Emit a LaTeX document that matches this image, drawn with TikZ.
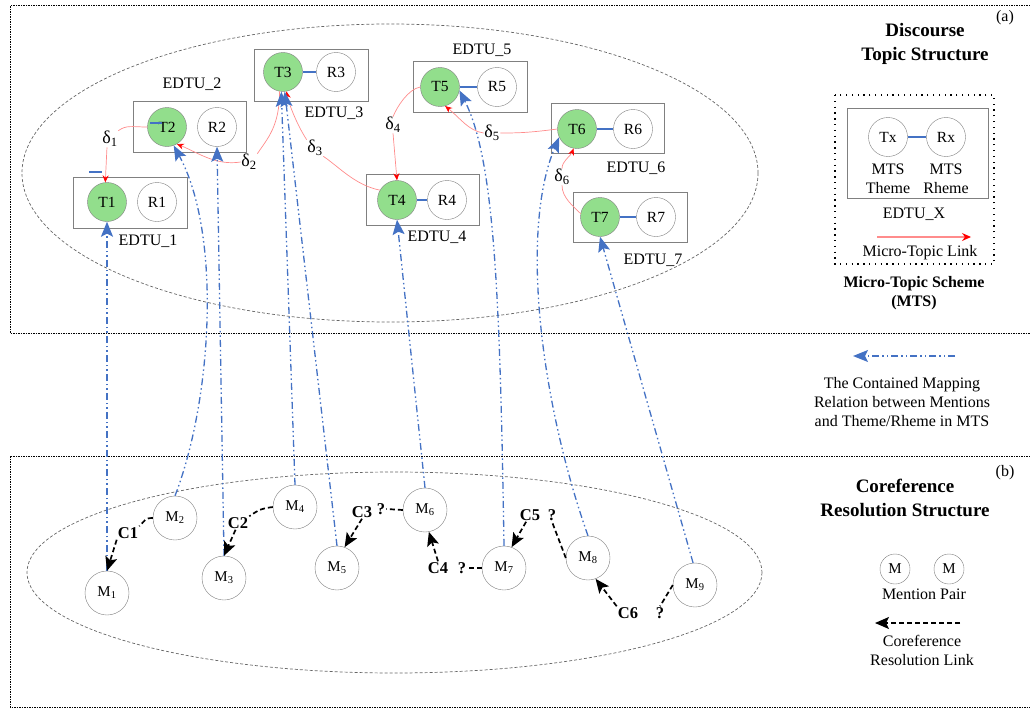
\documentclass[tikz,border=0pt]{standalone}
\usepackage{fontspec}
\setmainfont{Liberation Serif}
\usetikzlibrary{arrows.meta}
\definecolor{tgreen}{RGB}{146,222,140}
\definecolor{mblue}{RGB}{68,114,196}
\definecolor{lred}{RGB}{255,140,140}
\definecolor{bgray}{RGB}{128,128,128}
\begin{document}
\begin{tikzpicture}[x=1pt,y=-1pt,
  txt/.style={font=\fontsize{16}{19}\selectfont, inner sep=0pt, align=center},
  ttl/.style={font=\fontsize{19}{24}\selectfont\bfseries, inner sep=0pt, align=center},
  sttl/.style={font=\fontsize{16}{19}\selectfont\bfseries, inner sep=0pt, align=center},
  theme/.style={circle,draw=bgray,fill=tgreen,minimum size=39pt,inner sep=0pt,font=\fontsize{15.5}{17}\selectfont},
  rheme/.style={circle,draw=bgray,fill=white,minimum size=39pt,inner sep=0pt,font=\fontsize{15.5}{17}\selectfont},
  ment/.style={circle,draw=bgray,fill=white,minimum size=44pt,inner sep=0pt,font=\fontsize{15}{17}\selectfont},
  smment/.style={circle,draw=bgray,fill=white,minimum size=30pt,inner sep=0pt,font=\fontsize{15}{17}\selectfont},
  edtu/.style={draw=bgray, line width=0.8pt},
  ell/.style={draw=black!60, line width=0.7pt, dash pattern=on 3pt off 2pt},
  frame/.style={draw=black, line width=1pt, dash pattern=on 1.5pt off 1pt},
  legbox/.style={draw=black, line width=1.3pt, dash pattern=on 1.3pt off 4.5pt},
  tr/.style={mblue,line width=1.2pt},
  mtl/.style={lred, line width=0.7pt, -{Stealth[red,length=7pt,width=6pt]}},
  mtlp/.style={lred, line width=0.7pt},
  dl/.style={font=\fontsize{18}{19}\selectfont, inner sep=0.5pt},
  map/.style={mblue,line width=1.3pt,dash pattern=on 7pt off 3pt on 1.5pt off 3pt on 1.5pt off 3pt,-{Stealth[length=15pt,width=12pt,inset=3pt]}},
  coref/.style={black,line width=1.7pt,dash pattern=on 5pt off 3pt,-{Stealth[length=14pt,width=12pt,inset=3pt]}},
  corefp/.style={black,line width=1.7pt,dash pattern=on 5pt off 3pt},
  cl/.style={font=\fontsize{16.5}{18}\selectfont\bfseries, inner sep=1pt},
]
\useasboundingbox (0,0) rectangle (1030,709);

% frames
\draw[frame] (1030,6) -- (10,6) -- (10,333) -- (1030,333);
\draw[frame] (1030,456) -- (10,456) -- (10,707) -- (1030,707);

% ellipses
\draw[ell] (390,173) ellipse [x radius=368, y radius=149];
\draw[ell] (394.5,572.5) ellipse [x radius=367.5, y radius=100.5];

% EDTU boxes
\draw[edtu] (73,177) rectangle (187,228);
\draw[edtu] (133,101) rectangle (246,152);
\draw[edtu] (254,49) rectangle (368,101);
\draw[edtu] (366,174) rectangle (479,225);
\draw[edtu] (413,61) rectangle (527,112);
\draw[edtu] (551,103) rectangle (664,153);
\draw[edtu] (573,192) rectangle (687,242);

\node[txt] (e1) at (148,241) {EDTU\_1};
\node[txt] (e2) at (192,84) {EDTU\_2};
\node[txt] (e3) at (334,113) {EDTU\_3};
\node[txt] (e4) at (437,237) {EDTU\_4};
\node[txt] (e5) at (482,50) {EDTU\_5};
\node[txt] (e6) at (636,168) {EDTU\_6};
\node[txt] (e7) at (653,260) {EDTU\_7};

% themes and rhemes
\node[theme] (T1) at (107,202) {T1};
\node[rheme] (R1) at (157,202) {R1};
\node[theme] (T2) at (167,127) {T2};
\node[rheme] (R2) at (217,127) {R2};
\node[theme] (T3) at (283,72) {T3};
\node[rheme] (R3) at (336,72) {R3};
\node[theme] (T4) at (397,200) {T4};
\node[rheme] (R4) at (447,200) {R4};
\node[theme] (T5) at (440,87) {T5};
\node[rheme] (R5) at (497,87) {R5};
\node[theme] (T6) at (577,129) {T6};
\node[rheme] (R6) at (633,129) {R6};
\node[theme] (T7) at (600,217) {T7};
\node[rheme] (R7) at (656,217) {R7};

\draw[tr] (T3) -- (R3);
\draw[tr] (T4) -- (R4);
\draw[tr] (T5) -- (R5);
\draw[tr] (T6) -- (R6);
\draw[tr] (T7) -- (R7);
\draw[tr] (150,123) -- (162,123);
\draw[tr] (89,172) -- (102,172);

% delta labels
\node[dl] (d1) at (110,139) {δ\textsubscript{1}};
\node[dl] (d2) at (249,162) {δ\textsubscript{2}};
\node[dl] (d3) at (315,148) {δ\textsubscript{3}};
\node[dl] (d4) at (393,125) {δ\textsubscript{4}};
\node[dl] (d5) at (492,133) {δ\textsubscript{5}};
\node[dl] (d6) at (562,177) {δ\textsubscript{6}};

% micro-topic links
\draw[mtlp] (T2.west) .. controls +(-15,0) and +(8,-6) .. (d1.north east);
\draw[mtl] (d1.250) -- (T1.95);
\draw[mtlp] (T3.-100) .. controls +(0,35) and +(10,-15) .. (d2.north east);
\draw[mtl] (d2.west) .. controls +(-25,4) and +(20,8) .. (T2.-60);
\draw[mtlp] (T4.150) .. controls +(-25,-5) and +(15,10) .. (d3.south east);
\draw[mtl] (d3.north west) .. controls +(-8,-12) and +(3,15) .. (T3.-80);
\draw[mtlp] (T5.west) .. controls +(-12,2) and +(4,-10) .. (d4.north);
\draw[mtl] (d4.south) -- (T4.north);
\draw[mtlp] (T6.west) .. controls +(-30,4) and +(15,0) .. (d5.east);
\draw[mtl] (d5.west) .. controls +(-15,-2) and +(15,12) .. (T5.-75);
\draw[mtlp] (T7.170) .. controls +(-8,-8) and +(0,12) .. (d6.south);
\draw[mtl] (d6.north) .. controls +(0,-8) and +(-3,8) .. (T6.-100);

% mentions
\node[ment] (M1) at (107,593) {M\textsubscript{1}};
\node[ment] (M2) at (175,518) {M\textsubscript{2}};
\node[ment] (M3) at (224,578) {M\textsubscript{3}};
\node[ment] (M4) at (295,507) {M\textsubscript{4}};
\node[ment] (M5) at (337,568) {M\textsubscript{5}};
\node[ment] (M6) at (425,510) {M\textsubscript{6}};
\node[ment] (M7) at (504,568) {M\textsubscript{7}};
\node[ment] (M8) at (588,558) {M\textsubscript{8}};
\node[ment] (M9) at (695,585) {M\textsubscript{9}};

% mapping relations
\draw[map] (M1.north) -- (T1.south);
\draw[map] (M2.north) .. controls (212,400) and (222,235) .. (T2.-70);
\draw[map] (M3.north) -- (R2.south);
\draw[map] (M4.north) -- (T3.-95);
\draw[map] (M5.north) -- (T3.-85);
\draw[map] (M6.north) -- (T4.south);
\draw[map] (M7.north) .. controls (500,300) and (495,160) .. (T5.-10);
\draw[map] (M8.north) .. controls (540,400) and (520,230) .. (T6.205);
\draw[map] (M9.95) -- (T7.south);

% coreference labels
\node[cl] (lC1) at (128,533) {C1};
\node[cl] (lC2) at (238,523) {C2};
\node[cl] (lC3) at (362,512) {C3};
\node[cl] (q3) at (381,509) {?};
\node[cl] (lC4) at (438,568) {C4};
\node[cl] (q4) at (462,568) {?};
\node[cl] (lC5) at (530,515) {C5};
\node[cl] (q5) at (552,515) {?};
\node[cl] (lC6) at (628,613) {C6};
\node[cl] (q6) at (660,613) {?};

% coreference links
\draw[corefp] (M2.west) .. controls +(-8,0) and +(6,-6) .. (lC1.north east);
\draw[coref] (lC1.south west) -- (M1.north);
\draw[corefp] (M4.west) .. controls +(-15,2) and +(8,-5) .. (lC2.north east);
\draw[coref] (lC2.250) -- (M3.north);
\draw[corefp] (M6.west) -- (q3.east);
\draw[coref] (lC3.south) -- (M5.70);
\draw[corefp] (M7.west) -- (q4.east);
\draw[coref] (lC4.north) -- (M6.-80);
\draw[corefp] (M8.west) -- (q5.south);
\draw[coref] (lC5.240) -- (M7.70);
\draw[corefp] (M9.west) -- (q6.north);
\draw[coref] (lC6.north west) -- (M8.-70);

% ===== legend (a)
\node[txt] (la) at (1005,18) {(a)};
\node[ttl] (tA) at (925,44) {Discourse\\Topic Structure};
\draw[legbox] (835,95) rectangle (994,264);
\draw[edtu] (847,108) rectangle (988,198);
\node[rheme] (Tx) at (888,137) {Tx};
\node[rheme] (Rx) at (946,137) {Rx};
\draw[tr] (Tx) -- (Rx);
\node[txt] (mt) at (888,179) {MTS\\Theme};
\node[txt] (mr) at (946,179) {MTS\\Rheme};
\node[txt] (ex) at (914,214) {EDTU\_X};
\coordinate (la1) at (877,237);
\coordinate (la2) at (971,237);
\draw[lred, line width=1.2pt, -{Stealth[red,length=9pt,width=8pt]}] (la1) -- (la2);
\node[txt] (mtl) at (920,253) {Micro-Topic Link};
\node[sttl] (mts) at (914,293) {Micro-Topic Scheme\\(MTS)};

\coordinate (lb1) at (955,356);
\coordinate (lb2) at (853,356);
\draw[map] (lb1) -- (lb2);
\node[txt] (cm) at (902,402) {The Contained Mapping\\Relation between Mentions\\and Theme/Rheme in MTS};

% ===== legend (b)
\node[txt] (lb) at (1005,473) {(b)};
\node[ttl] (tB) at (905,498) {Coreference\\Resolution Structure};
\node[smment] (MA) at (895,569) {M};
\node[smment] (MB) at (949,569) {M};
\node[txt] (mp) at (924,594) {Mention Pair};
\coordinate (lc1) at (960,623);
\coordinate (lc2) at (875,623);
\draw[coref] (lc1) -- (lc2);
\node[txt] (crl) at (922,650) {Coreference\\Resolution Link};
\end{tikzpicture}
\end{document}
